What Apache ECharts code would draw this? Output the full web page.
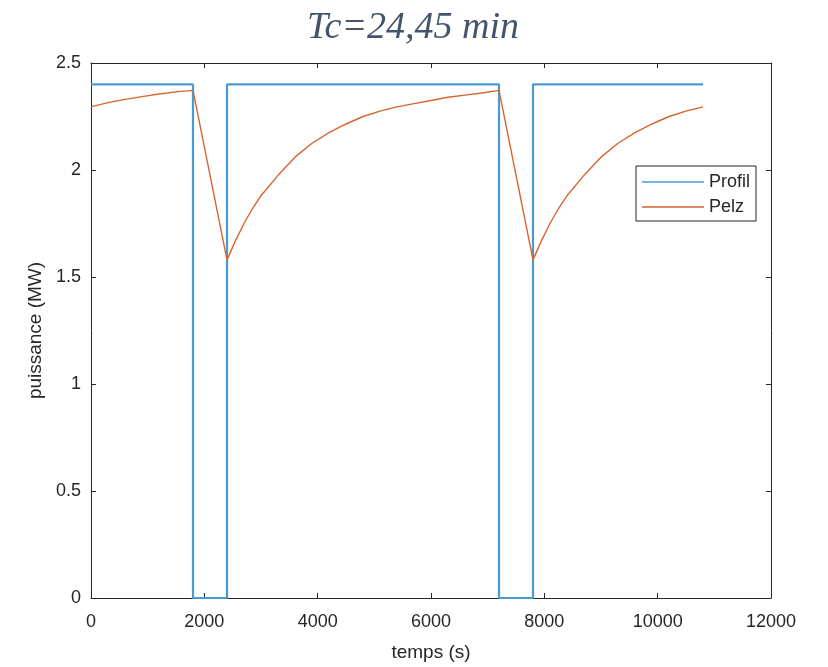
<!DOCTYPE html>
<html>
<head>
<meta charset="utf-8">
<script src="https://cdn.jsdelivr.net/npm/echarts@6/dist/echarts.min.js"></script>
<style>
html,body{margin:0;padding:0;background:#fff;}
#chart{width:828px;height:667px;}
</style>
</head>
<body>
<div id="chart"></div>
<script>
const titleText = 'Tc=24,45 min';
const xAxisName = 'temps (s)';
const yAxisName = 'puissance (MW)';
const seriesNames = ['Profil', 'Pelz'];

// Profil: step profile (time s, power MW)
const profilT = [0, 1800, 1800, 2400, 2400, 7200, 7200, 7800, 7800, 10800];
const profilV = [2.4, 2.4, 0, 0, 2.4, 2.4, 0, 0, 2.4, 2.4];

// Pelz: values
const pelzT = [0, 300, 600, 900, 1200, 1500, 1800,
  2400, 2550, 2700, 2850, 3000, 3300, 3600, 3900, 4200, 4500, 4800, 5100, 5400, 5700, 6000, 6300, 6600, 6900, 7200,
  7800, 7950, 8100, 8250, 8400, 8700, 9000, 9300, 9600, 9900, 10200, 10500, 10800];
const pelzV = [2.295, 2.315, 2.330, 2.343, 2.355, 2.365, 2.372,
  1.580, 1.670, 1.750, 1.820, 1.880, 1.975, 2.060, 2.125, 2.175, 2.215, 2.250, 2.275, 2.295, 2.310, 2.325, 2.340, 2.350, 2.360, 2.372,
  1.580, 1.670, 1.750, 1.820, 1.880, 1.975, 2.060, 2.125, 2.175, 2.215, 2.250, 2.275, 2.295];

const axisColor = '#262626';
const labelFont = 'Liberation Sans, Arial, sans-serif';
const fmt = v => String(v);

const chart = echarts.init(document.getElementById('chart'));
const xCommon = {
  type: 'value', min: 0, max: 12000, interval: 2000,
  axisLine: {show: true, onZero: false, lineStyle: {color: axisColor, width: 1}},
  axisTick: {show: true, inside: true, length: 5, lineStyle: {color: axisColor}},
  splitLine: {show: false}
};
const yCommon = {
  type: 'value', min: 0, max: 2.5, interval: 0.5,
  axisLine: {show: true, onZero: false, lineStyle: {color: axisColor, width: 1}},
  axisTick: {show: true, inside: true, length: 5, lineStyle: {color: axisColor}},
  splitLine: {show: false}
};
chart.setOption({
  animation: false,
  backgroundColor: '#fff',
  title: {
    text: titleText, left: 408, top: 4, textAlign: 'center',
    textStyle: {fontFamily: 'Liberation Serif, Times New Roman, serif', fontStyle: 'italic', fontWeight: 'normal', fontSize: 38, color: '#44546a'}
  },
  grid: {left: 91, right: 57, top: 63, bottom: 67},
  legend: {
    orient: 'vertical', left: 636, top: 166,
    data: seriesNames,
    icon: 'rect', itemWidth: 62, itemHeight: 1.5, itemGap: 5,
    padding: [6, 6, 4, 6],
    borderColor: axisColor, borderWidth: 1, backgroundColor: '#fff',
    textStyle: {fontFamily: labelFont, fontSize: 18, color: axisColor, lineHeight: 20}
  },
  xAxis: [
    Object.assign({}, xCommon, {
      position: 'bottom',
      name: xAxisName, nameLocation: 'middle', nameGap: 45,
      nameTextStyle: {fontFamily: labelFont, fontSize: 19, color: axisColor},
      axisLabel: {margin: 15, fontFamily: labelFont, fontSize: 18, color: axisColor, formatter: fmt}
    }),
    Object.assign({}, xCommon, {position: 'top', axisLabel: {show: false}})
  ],
  yAxis: [
    Object.assign({}, yCommon, {
      position: 'left',
      name: yAxisName, nameLocation: 'middle', nameGap: 45,
      nameTextStyle: {fontFamily: labelFont, fontSize: 19, color: axisColor},
      axisLabel: {margin: 10, fontFamily: labelFont, fontSize: 18, color: axisColor, formatter: fmt}
    }),
    Object.assign({}, yCommon, {position: 'right', axisLabel: {show: false}})
  ],
  series: [
    {
      name: seriesNames[0], type: 'line', xAxisIndex: 0, yAxisIndex: 0,
      data: profilT.map((t, i) => [t, profilV[i]]),
      showSymbol: false, symbol: 'none',
      lineStyle: {color: '#4a9ad4', width: 2.2},
      itemStyle: {color: '#4a9ad4'}
    },
    {
      name: seriesNames[1], type: 'line', xAxisIndex: 0, yAxisIndex: 0,
      data: pelzT.map((t, i) => [t, pelzV[i]]),
      showSymbol: false, symbol: 'none', smooth: false,
      lineStyle: {color: '#d6652f', width: 1.4},
      itemStyle: {color: '#d6652f'}
    }
  ]
});
</script>
</body>
</html>
